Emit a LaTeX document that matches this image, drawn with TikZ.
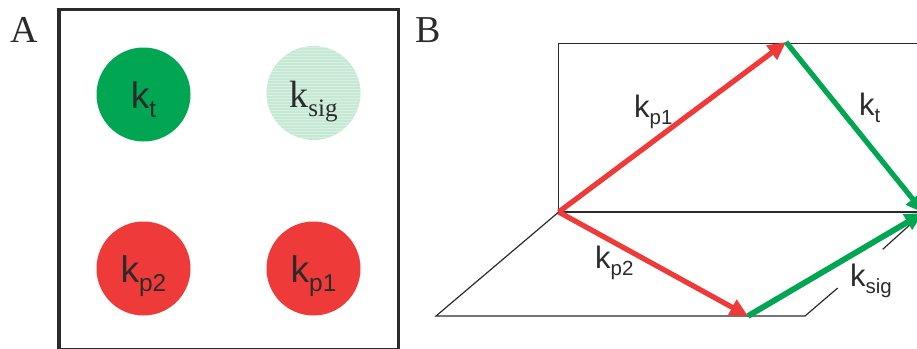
\documentclass[tikz,border=0pt]{standalone}
\usepackage{fontspec}
\setmainfont{Liberation Serif}
\newfontfamily\labelfont{Liberation Sans}
\usetikzlibrary{arrows.meta,patterns}
\definecolor{kred}{HTML}{EE3B39}
\definecolor{kgreen}{HTML}{00A651}
\definecolor{kpale}{HTML}{C6E9D6}
\definecolor{kink}{HTML}{2B2B2B}
\newcommand{\ksub}[1]{k\raisebox{-0.24em}{\fontsize{0.66em}{0.66em}\selectfont #1}}
\newcommand{\bigsans}{\labelfont\fontsize{37}{37}\selectfont}
\newcommand{\smallsans}{\labelfont\fontsize{31}{31}\selectfont}
\tikzset{
    rate/.style={circle, minimum size=94pt, inner sep=0pt, text height=28.5pt, text depth=0pt, text=kink, font=\bigsans},
    panel/.style={text=kink, font=\fontsize{38}{38}\selectfont, anchor=base west, inner sep=0pt},
    veclabel/.style={text=kink, font=\smallsans, anchor=base west, inner sep=0pt},
    vec/.style={line width=5.2pt, -{Triangle[length=18pt,width=17pt]}},
    edge/.style={draw=kink, line width=1.2pt}
}

\begin{document}
\begin{tikzpicture}[x=1pt, y=-1pt]
    \useasboundingbox (0,0) rectangle (917,348);

    % A
    \node[panel] (labelA) at (10,42) {A};
    \draw[kink, line width=3.2pt] (59,9.5) rectangle (398.5,349.5);
    \node[rate, fill=kgreen] (rateT) at (143.5,94.5) {\ksub{t}};
    \node[rate, preaction={fill=kpale}, pattern=horizontal lines, pattern color=white!30!kpale,
        font=\fontsize{38}{38}\selectfont] (rateSig) at (313.5,93) {\ksub{sig}};
    \node[rate, fill=kred] (rateP2) at (143.5,268.5) {\ksub{p2}};
    \node[rate, fill=kred] (rateP1) at (313.5,268.5) {\ksub{p1}};

    % B
    \node[panel] (labelB) at (415,42) {B};
    \coordinate (origin) at (558.7,212);
    \coordinate (top) at (786,42);
    \coordinate (right) at (924,213);
    \coordinate (low) at (748,316);
    \coordinate (sideEnd) at (923,213);

    % planes
    \draw[edge] (950,43.7) -- (558.7,43.7) -- (origin) -- (950,212);
    \draw[edge] (origin) -- (436,316) -- (805,316) -- (837.7,288);
    \draw[edge] (882.7,249.3) -- (sideEnd);

    % arrows
    \draw[vec, kred] (origin) -- (top);
    \draw[vec, kred] (origin) -- (low);
    \draw[vec, kgreen] (top) -- (right);
    \draw[vec, kgreen, line width=5.8pt] (low) -- (sideEnd);

    \node[veclabel] (labelP1) at (634,117) {\ksub{p1}};
    \node[veclabel] (labelT) at (859,115) {\ksub{t}};
    \node[veclabel] (labelP2) at (595,268) {\ksub{p2}};
    \node[veclabel] (labelSig) at (850,286) {\ksub{sig}};
\end{tikzpicture}
\end{document}
